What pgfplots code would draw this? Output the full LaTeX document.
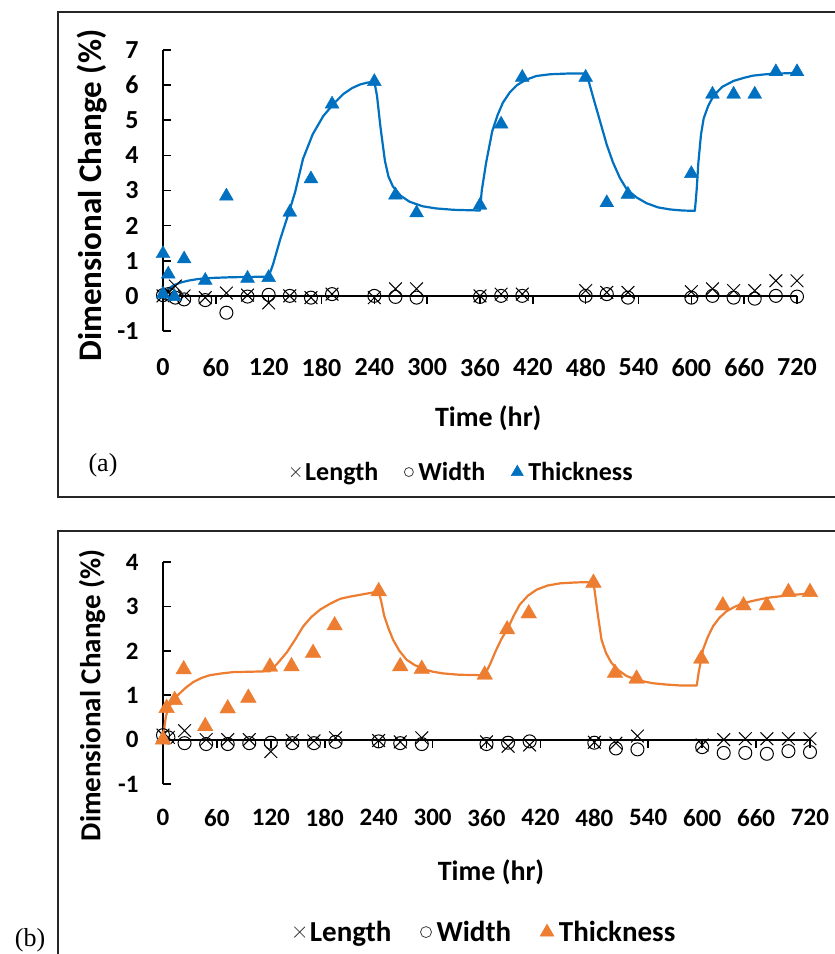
\documentclass[border=0pt]{standalone}
\usepackage{pgfplots}
\pgfplotsset{compat=1.18}
\usepackage{fontspec}
\setmainfont{Carlito}
\newfontfamily\timesf{Liberation Serif}
\definecolor{xlblue}{HTML}{0070C0}
\definecolor{xlorange}{HTML}{ED7D31}

\pgfplotsset{
 dimstyle/.style={
  scale only axis, xmin=0, xmax=720,
  axis y line=left, axis x line=bottom,
  x axis line style={draw=none},
  y axis line style={-, line width=1.6pt},
  xtick={0,60,...,720}, xtick style={draw=none},
  ytick align=inside, major tick length=8pt,
  ytick style={line width=1.6pt, black},
  clip=false,
  /pgf/number format/assume math mode=true,
  legend columns=3,
  legend style={draw=none, fill=none, anchor=center},
 },
 lenmark/.style={only marks, mark=x, mark size=9pt, black, mark options={line width=1pt}},
 widmark/.style={only marks, mark=o, mark size=6.5pt, black, mark options={line width=1pt}},
}

\begin{document}
\begin{tikzpicture}[x=1pt,y=1pt]
\useasboundingbox (0pt,0pt) rectangle (835pt,954pt);
\clip (0pt,0pt) rectangle (835pt,954pt);
% frames
\draw[line width=2pt, black!85] (57.5pt,942pt) rectangle (860pt,456.5pt);
\draw[line width=2pt, black!85] (57.5pt,423pt) rectangle (860pt,-20pt);
\node[font=\timesf\fontsize{26}{26}\selectfont] at (103pt,489pt) {(a)};
\node[font=\timesf\fontsize{26}{26}\selectfont] at (30pt,14pt) {(b)};

% ---------------- panel (a)
\begin{axis}[dimstyle,
  at={(163pt,623pt)}, anchor=south west,
  width=634pt, height=281pt,
  ymin=-1, ymax=7, ytick={-1,0,...,7},
  ticklabel style={font=\bfseries\fontsize{26}{26}\selectfont},
  xticklabel style={yshift=-20pt},
  yticklabel style={xshift=-21pt},
  xlabel={Time (hr)},
  ylabel={Dimensional Change (\%)},
  xlabel style={at={(axis description cs:0.513,-0.31)}, anchor=center, font=\bfseries\fontsize{28}{28}\selectfont},
  ylabel style={at={(axis description cs:-0.112,0.482)}, anchor=center, font=\bfseries\fontsize{33}{33}\selectfont},
  legend style={at={(axis description cs:0.473,-0.502)}, font=\bfseries\fontsize{26}{26}\selectfont,
     /tikz/every even column/.append style={column sep=24pt}},
]
\draw[line width=1.8pt] (axis cs:0,0) -- (axis cs:720,0);
\pgfplotsinvokeforeach{60,120,180,240,300,360,420,480,540,600,660,720}{\draw[line width=1.6pt] (axis cs:#1,0) -- ++(0pt,-8pt);}
\addlegendimage{only marks, mark=x, mark size=6.5pt, black!75, mark options={line width=0.8pt}}
\addlegendentry{\hspace{3pt}Length}
\addlegendimage{only marks, mark=o, mark size=4.5pt, black!75, mark options={line width=0.8pt}}
\addlegendentry{\hspace{3pt}Width}
\addlegendimage{only marks, mark=triangle*, mark size=7pt, xlblue}
\addlegendentry{\hspace{3pt}Thickness}
% Length
\addplot[lenmark, forget plot] coordinates {
(0,0) (6,0.1) (14,0.28) (24,0.0) (48,-0.05) (72,0.08) (96,0.02) (120,-0.2) (144,0.0) (168,-0.05) (192,0.05) (240,-0.05) (264,0.2) (288,0.2) (360,0.0) (384,0.05) (408,0.05) (480,0.15) (504,0.1) (528,0.1) (600,0.12) (624,0.2) (648,0.15) (672,0.15) (696,0.43) (720,0.43)};
% Width
\addplot[widmark, forget plot] coordinates {
(0,0.02) (6,0.05) (14,-0.05) (24,-0.1) (48,-0.12) (72,-0.48) (96,-0.02) (120,0.03) (144,0.0) (168,-0.05) (192,0.05) (240,0.0) (264,-0.03) (288,-0.05) (360,-0.03) (384,0.0) (408,0.0) (480,0.0) (504,0.05) (528,-0.05) (600,-0.05) (624,0.0) (648,-0.05) (672,-0.08) (696,0.0) (720,-0.02)};
% Thickness fit curve
\addplot[xlblue, line width=2.2pt, line join=round, forget plot] coordinates {
(0,0) (3,0.12) (6,0.2) (12,0.3) (20,0.38) (30,0.44) (40,0.48) (55,0.51) (77,0.53) (100,0.54) (120,0.55) (125,0.9) (133,1.6) (143,2.38) (150,2.95) (159,3.9) (170,4.6) (182,5.12) (195,5.5) (205,5.75) (215,5.92) (224,6.02) (232,6.07) (240,6.1) (243,5.7) (247,4.8) (252,3.85) (256,3.4) (261,3.12) (270,2.85) (280,2.68) (295,2.55) (310,2.49) (330,2.45) (360,2.43) (362,3.0) (367,3.8) (374,4.7) (380,5.15) (386,5.5) (394,5.8) (402,6.0) (412,6.15) (424,6.26) (440,6.31) (460,6.33) (481,6.33) (488,5.7) (496,5.0) (504,4.3) (511,3.8) (519,3.35) (527,3.02) (538,2.8) (549,2.64) (562,2.52) (576,2.46) (590,2.43) (604,2.42) (606,3.0) (608,3.8) (611,4.6) (614,5.05) (619,5.4) (625,5.69) (635,5.95) (648,6.12) (660,6.21) (670,6.27) (685,6.31) (700,6.33) (720,6.35)};
% Thickness
\addplot[only marks, mark=triangle*, mark size=8pt, xlblue, forget plot] coordinates {
(0,0.05) (0,1.2) (6,0.62) (13,-0.02) (24,1.05) (48,0.44) (72,2.84) (96,0.5) (120,0.52) (144,2.38) (168,3.33) (192,5.46) (240,6.1) (264,2.87) (288,2.36) (360,2.58) (384,4.89) (408,6.22) (480,6.22) (504,2.65) (528,2.89) (600,3.48) (624,5.74) (648,5.74) (672,5.74) (696,6.38) (720,6.38)};
\end{axis}

% ---------------- panel (b)
\begin{axis}[dimstyle,
  at={(163pt,170pt)}, anchor=south west,
  width=647pt, height=222pt,
  ymin=-1, ymax=4, ytick={-1,0,...,4},
  ticklabel style={font=\bfseries\fontsize{25}{25}\selectfont},
  xticklabel style={yshift=-18pt},
  yticklabel style={xshift=-21pt},
  xlabel={Time (hr)},
  ylabel={Dimensional Change (\%)},
  xlabel style={at={(axis description cs:0.507,-0.396)}, anchor=center, font=\bfseries\fontsize{28}{28}\selectfont},
  ylabel style={at={(axis description cs:-0.1097,0.399)}, anchor=center, font=\bfseries\fontsize{29}{29}\selectfont},
  legend style={at={(axis description cs:0.499,-0.667)}, font=\bfseries\fontsize{29}{29}\selectfont,
     /tikz/every even column/.append style={column sep=27pt}},
]
\draw[line width=1.8pt] (axis cs:0,0) -- (axis cs:720,0);
\pgfplotsinvokeforeach{60,120,180,240,300,360,420,480,540,600,660,720}{\draw[line width=1.6pt] (axis cs:#1,0) -- ++(0pt,-8pt);}
\addlegendimage{only marks, mark=x, mark size=7.5pt, black!75, mark options={line width=0.8pt}}
\addlegendentry{\hspace{3pt}Length}
\addlegendimage{only marks, mark=o, mark size=5.5pt, black!75, mark options={line width=0.8pt}}
\addlegendentry{\hspace{3pt}Width}
\addlegendimage{only marks, mark=triangle*, mark size=8pt, xlorange}
\addlegendentry{\hspace{3pt}Thickness}
% Length
\addplot[lenmark, forget plot] coordinates {
(0,0.1) (6,0.05) (24,0.2) (48,0.0) (72,0.0) (96,0.0) (120,-0.27) (144,-0.02) (168,-0.03) (192,0.04) (240,-0.02) (264,-0.05) (288,0.04) (360,-0.05) (384,-0.15) (408,-0.12) (480,-0.06) (504,-0.08) (528,0.08) (600,-0.12) (624,0.0) (648,0.02) (672,0.02) (696,0.02) (720,0.02)};
% Width
\addplot[widmark, forget plot] coordinates {
(0,0.1) (6,0.05) (24,-0.08) (48,-0.1) (72,-0.1) (96,-0.08) (120,-0.07) (144,-0.08) (168,-0.08) (192,-0.05) (240,-0.04) (264,-0.08) (288,-0.1) (360,-0.1) (384,-0.07) (408,-0.04) (480,-0.07) (504,-0.2) (528,-0.22) (600,-0.17) (624,-0.3) (648,-0.3) (672,-0.32) (696,-0.26) (720,-0.28)};
% Thickness fit curve
\addplot[xlorange, line width=2.2pt, line join=round, forget plot] coordinates {
(0,0) (2,0.35) (3.3,0.53) (6,0.7) (9.6,0.83) (14,0.95) (19,1.05) (26,1.18) (34,1.3) (43,1.39) (52,1.45) (65,1.49) (78,1.52) (100,1.53) (119,1.54) (128,1.73) (138,1.97) (147,2.25) (156,2.55) (165,2.76) (175,2.93) (186,3.06) (197,3.17) (208,3.22) (219,3.26) (230,3.3) (240,3.34) (243,3.1) (246,2.8) (251,2.5) (256,2.25) (263,2.0) (271,1.8) (280,1.68) (290,1.59) (300,1.53) (312,1.49) (330,1.46) (358,1.45) (364,1.7) (371,2.03) (377,2.28) (384,2.51) (390,2.78) (397,3.04) (406,3.24) (416,3.38) (428,3.47) (442,3.52) (460,3.54) (479,3.55) (481,3.25) (484,2.8) (488,2.25) (493,1.95) (499,1.73) (507,1.56) (516,1.43) (530,1.33) (545,1.27) (560,1.24) (575,1.22) (594,1.22) (596,1.5) (601,2.03) (606,2.3) (612,2.55) (619,2.74) (627,2.89) (637,3.0) (649,3.09) (662,3.15) (675,3.2) (688,3.23) (701,3.26) (720,3.29)};
% Thickness
\addplot[only marks, mark=triangle*, mark size=9pt, xlorange, forget plot] coordinates {
(0,0) (4,0.71) (13,0.89) (23,1.58) (47,0.3) (72,0.7) (95,0.94) (119,1.64) (143,1.65) (167,1.95) (191,2.57) (240,3.34) (264,1.65) (288,1.59) (358,1.46) (383,2.48) (407,2.84) (479,3.53) (503,1.5) (527,1.37) (599,1.82) (623,3.02) (646,3.02) (672,3.02) (696,3.32) (720,3.32)};
\end{axis}
\end{tikzpicture}
\end{document}
